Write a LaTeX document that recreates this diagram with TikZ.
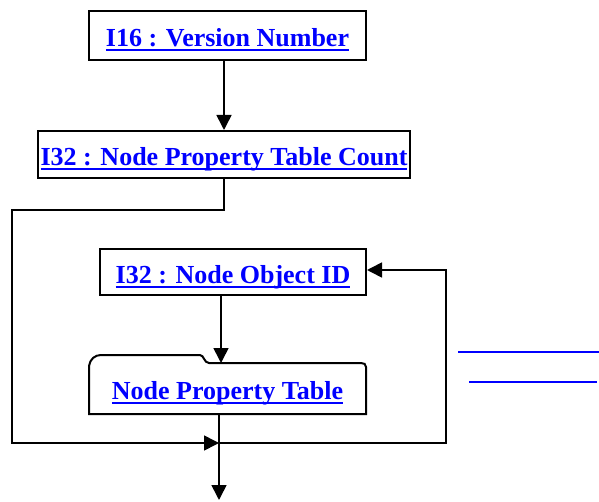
\documentclass[tikz,border=0pt]{standalone}
\usepackage{fontspec}
\setmainfont{Liberation Serif}
\usepackage{tikz}
\usetikzlibrary{arrows.meta}
\newsavebox\ulbox
\newcommand{\ulink}[1]{\sbox\ulbox{#1}\rlap{\rule[-4.5pt]{\wd\ulbox}{2.4pt}}\usebox\ulbox}

\begin{document}
\begin{tikzpicture}[x=1pt, y=-1pt, thick, main/.style={draw, line width=2pt, text=blue, font=\fontsize{26}{30}\selectfont\bfseries, text height=25pt, text depth=2pt, inner sep=0pt}, tab/.style={text=blue, font=\fontsize{26}{30}\selectfont\bfseries, text height=25pt, text depth=2pt, inner sep=0pt}, ar/.style={-{Triangle[length=15pt,width=15pt]}, line width=1.6pt}]
          \useasboundingbox (0,0) rectangle (599,502);
          \node[main, minimum width=277pt, minimum height=49pt] (1) at (227.5,35.5) {\ulink{I16 : Version Number}};
          \node[main, minimum width=372pt, minimum height=47pt] (2) at (224,154.5) {\ulink{I32 : Node Property Table Count}};
          \node[main, minimum width=266pt, minimum height=46pt] (3) at (233,272) {\ulink{I32 : Node Object ID}};
          
          % folder shaped box
          \draw[line width=2pt] (89,414) -- (89,366) .. controls (90,359) and (95,355) .. (101,355) -- (200,355) .. controls (204,355) and (204,363) .. (209,363) -- (361,363) .. controls (364,363) and (366,364) .. (366,367) -- (366,414) -- cycle;
          \node[tab] (4) at (227.5,388) {\ulink{Node Property Table}};
          
          \coordinate (tt) at (221,363);
          \coordinate (tb) at (219,414);
          \coordinate (tl) at (12,210);
          \coordinate (jn) at (219,443);
          \coordinate (tr) at (446,270);
          \coordinate (out) at (219,500);
          
          \draw[ar] (2.north |- 1.south) -- (2.north);
          \draw[ar] (2.south) |- (tl) |- (jn);
          \draw[ar] (3.south -| tt) -- (tt);
          \draw[ar] (tb) -- (out);
          \draw[ar] (jn) -| (tr) -- (3.east |- tr);
          
          \draw[blue, line width=2.4pt] (458,352) -- (599,352);
          \draw[blue, line width=2.4pt] (469,382) -- (597,382);
        \end{tikzpicture}
\end{document}
